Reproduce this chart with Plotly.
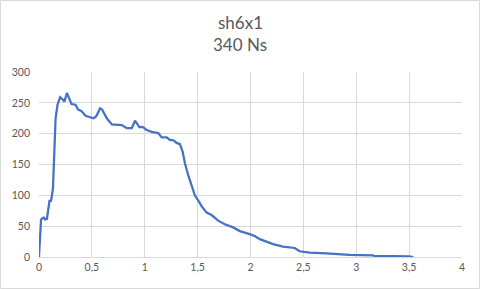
import plotly.graph_objects as go

time_s = [0, 0.019, 0.031, 0.045, 0.057, 0.075, 0.1, 0.113, 0.132, 0.145, 0.157, 0.175, 0.2,
          0.226, 0.24, 0.264, 0.283, 0.308, 0.345, 0.37, 0.4, 0.44, 0.477, 0.515, 0.54,
          0.578, 0.597, 0.641, 0.689, 0.783, 0.83, 0.877, 0.908, 0.924, 0.949, 0.98,
          1.018, 1.065, 1.128, 1.16, 1.207, 1.238, 1.276, 1.3, 1.333, 1.358, 1.38, 1.41,
          1.443, 1.474, 1.505, 1.537, 1.585, 1.632, 1.694, 1.757, 1.836, 1.9, 1.977,
          2.04, 2.088, 2.213, 2.307, 2.418, 2.465, 2.56, 2.717, 2.906, 2.937, 3.16,
          3.17, 3.5, 3.54]
thrust_n = [0, 60, 63, 64, 61, 62, 92, 90, 111, 170, 225, 247, 259,
            255, 252, 266, 258, 248, 247, 239, 237, 229, 227, 225, 228,
            241, 239, 225, 215, 214, 209, 209, 221, 217, 210.5, 211,
            206, 203, 201, 194, 194, 190, 189, 185, 183, 171, 152, 133,
            117, 100, 92, 82.5, 72, 68, 59, 53, 48, 42, 38,
            34, 29, 21, 17, 14.6, 9.3, 7.1, 6, 4.4, 3.3, 2.8,
            1.7, 1.2, 0]

title_lines = ["sh6x1", "340 Ns"]

W, H = 480, 289
ml, mr, mt, mb = 39, 18, 72, 32

fig = go.Figure()
fig.add_trace(go.Scatter(x=time_s, y=thrust_n, mode="lines",
                         line=dict(color="#4472C4", width=2.25), hoverinfo="skip"))

grid = "#D9D9D9"
txt = "#595959"
font_family = "Lato, 'Open Sans', sans-serif"

pw = W - ml - mr
ph = H - mt - mb
fig.add_shape(type="rect", xref="paper", yref="paper",
              x0=-(ml - 0.5) / pw, x1=1 + (mr - 0.5) / pw,
              y0=-(mb - 0.5) / ph, y1=1 + (mt - 0.5) / ph,
              line=dict(color=grid, width=1), layer="below")

# title lines as annotations (centres at ~22px and ~45px from top)
for i, (line_text, cy) in enumerate(zip(title_lines, [22, 45])):
    fig.add_annotation(text=line_text, xref="paper", yref="paper",
                       x=(W / 2 - ml) / pw, y=1 + (mt - cy) / ph,
                       xanchor="center", yanchor="middle", showarrow=False,
                       font=dict(family=font_family, size=17, color=txt))

fig.update_layout(
    width=W, height=H,
    margin=dict(l=ml, r=mr, t=mt, b=mb),
    paper_bgcolor="white", plot_bgcolor="white",
    showlegend=False,
    separators=", ",
    font=dict(family=font_family, color=txt, size=10),
    xaxis=dict(range=[0, 4], dtick=0.5, tick0=0, showgrid=True, gridcolor=grid,
               gridwidth=1, zeroline=False, showline=True, linecolor=grid,
               ticks="", tickfont=dict(size=10.5, color=txt)),
    yaxis=dict(range=[0, 300], dtick=50, showgrid=True, gridcolor=grid, gridwidth=1,
               zeroline=False, showline=False, ticks="", ticklabelstandoff=8,
               tickfont=dict(size=10.5, color=txt)),
)

fig.write_html("out.html")
